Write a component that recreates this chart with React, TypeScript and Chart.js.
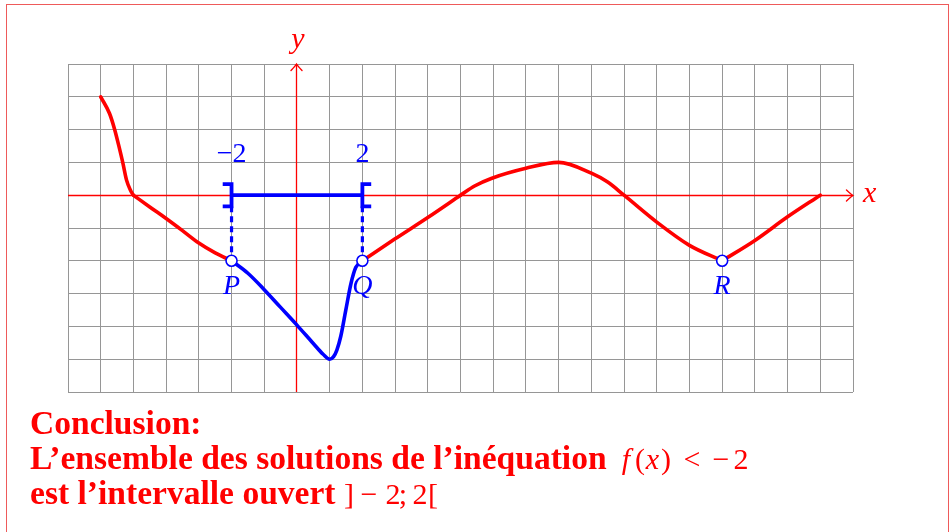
import React, { useEffect, useRef } from "react";
import { Chart, registerables } from "chart.js";

Chart.register(...registerables);

// Window of the graph
const xRange = [-7, 17];
const yRange = [-6, 4];

// Curve of f, red parts
const redAX = [-6, -5.73, -5.57, -5.44, -5.32, -5.21, -5.09, -5];
const redAY = [3, 2.49, 1.99, 1.48, 0.97, 0.46, 0.15, 0];
const redBX = [-5, -4.5, -4, -3.5, -3, -2.5, -2];
const redBY = [0, -0.36, -0.71, -1.08, -1.46, -1.76, -2];
const redCX = [2, 3, 4, 5];
const redCY = [-2, -1.33, -0.68, 0];
const redDX = [5, 5.43, 5.94, 7, 8, 9, 9.5, 10, 11, 12, 13];
const redDY = [0, 0.28, 0.51, 0.82, 1, 0.67, 0.4, 0, -0.82, -1.53, -2];
const redEX = [13, 14, 15, 16];
const redEY = [-2, -1.38, -0.66, 0];

// Part of the curve under y = -2 (blue)
const blueX = [-2, -1.5, -1, -0.5, 0, 0.5, 0.8, 1, 1.12, 1.22, 1.34, 1.49, 1.65, 1.8, 2];
const blueY = [-2, -2.38, -2.88, -3.42, -3.96, -4.52, -4.85, -5, -4.92, -4.72, -4.3, -3.52, -2.7, -2.2, -2];

// Solution interval ]-2 ; 2[
const intervalX = [-2, 2];
const intervalLabels = ["\u22122", "2"];
const intervalLabelY = 1;

// Marked points
const pointNames = ["P", "Q", "R"];
const pointX = [-2, 2, 13];
const pointY = [-2, -2, -2];
const pointLabelY = -3;

// Conclusion text
const conclusionBold = [
  "Conclusion:",
  "L\u2019ensemble des solutions de l\u2019in\u00e9quation",
  "est l\u2019intervalle ouvert",
];

const RED = "#ff0000";
const BLUE = "#0000ff";
const GRID = "rgb(150,150,150)";

const pts = (xs: number[], ys: number[]) => xs.map((x, i) => ({ x, y: ys[i] }));

export default function App() {
  const ref = useRef<HTMLCanvasElement | null>(null);

  useEffect(() => {
    document.body.style.margin = "0";
    const canvas = ref.current;
    if (!canvas) return;

    const curve = (xs: number[], ys: number[], color: string) => ({
      data: pts(xs, ys),
      showLine: true,
      borderColor: color,
      backgroundColor: color,
      borderWidth: 3.6,
      pointRadius: 0,
      cubicInterpolationMode: "monotone",
      borderCapStyle: "round",
      borderJoinStyle: "round",
      fill: false,
      order: 3,
    });

    const bh = 0.34;
    const bs = 0.27;
    const bracket = (x: number, dir: number) => ({
      data: [
        { x: x + dir * bs, y: bh },
        { x, y: bh },
        { x, y: -bh },
        { x: x + dir * bs, y: -bh },
      ],
      showLine: true,
      borderColor: BLUE,
      borderWidth: 3.8,
      pointRadius: 0,
      tension: 0,
      borderJoinStyle: "miter",
      borderCapStyle: "butt",
      fill: false,
      order: 2,
    });

    const dashed = (x: number) => ({
      data: [
        { x, y: -bh },
        { x, y: pointY[0] },
      ],
      showLine: true,
      borderColor: BLUE,
      borderWidth: 3.2,
      borderDash: [6, 4],
      pointRadius: 0,
      tension: 0,
      fill: false,
      order: 2,
    });

    const axesPlugin = {
      id: "redAxes",
      beforeDatasetsDraw(chart: any) {
        const { ctx } = chart;
        const sx = chart.scales.x;
        const sy = chart.scales.y;
        const x0 = Math.floor(sx.getPixelForValue(0)) + 0.5;
        const y0 = Math.floor(sy.getPixelForValue(0)) + 0.5;
        const left = sx.getPixelForValue(xRange[0]);
        const right = sx.getPixelForValue(xRange[1]);
        const top = sy.getPixelForValue(yRange[1]);
        const bottom = sy.getPixelForValue(yRange[0]);
        ctx.save();
        ctx.strokeStyle = RED;
        ctx.lineWidth = 1.3;
        ctx.beginPath();
        ctx.moveTo(left, y0);
        ctx.lineTo(right, y0);
        ctx.moveTo(x0, bottom);
        ctx.lineTo(x0, top);
        ctx.stroke();
        ctx.lineWidth = 1.4;
        ctx.lineCap = "round";
        ctx.beginPath();
        ctx.moveTo(right - 6.5, y0 - 5.5);
        ctx.quadraticCurveTo(right - 2, y0 - 1.2, right, y0);
        ctx.quadraticCurveTo(right - 2, y0 + 1.2, right - 6.5, y0 + 5.5);
        ctx.moveTo(x0 - 5.5, top + 6.5);
        ctx.quadraticCurveTo(x0 - 1.2, top + 2, x0, top);
        ctx.quadraticCurveTo(x0 + 1.2, top + 2, x0 + 5.5, top + 6.5);
        ctx.stroke();
        ctx.restore();
      },
    };

    const textPlugin = {
      id: "texts",
      beforeDraw(chart: any) {
        const { ctx } = chart;
        ctx.save();
        ctx.strokeStyle = "rgb(238,90,90)";
        ctx.lineWidth = 1;
        ctx.strokeRect(6.5, 4.5, 942, 600);
        ctx.restore();
      },
      afterDraw(chart: any) {
        const { ctx } = chart;
        const sx = chart.scales.x;
        const sy = chart.scales.y;
        ctx.save();
        ctx.textBaseline = "alphabetic";
        // axis names
        ctx.fillStyle = RED;
        ctx.font = 'italic 30px "Liberation Serif"';
        ctx.textAlign = "left";
        ctx.fillText("x", sx.getPixelForValue(xRange[1]) + 10, sy.getPixelForValue(0) + 7);
        ctx.textAlign = "center";
        ctx.fillText("y", sx.getPixelForValue(0) + 1, sy.getPixelForValue(yRange[1]) - 16);
        // interval bounds
        ctx.fillStyle = BLUE;
        ctx.font = '28px "Liberation Serif"';
        intervalLabels.forEach((t, i) => {
          ctx.fillText(t, sx.getPixelForValue(intervalX[i]), sy.getPixelForValue(intervalLabelY));
        });
        // point names
        ctx.font = 'italic 28px "Liberation Serif"';
        pointNames.forEach((t, i) => {
          ctx.fillText(t, sx.getPixelForValue(pointX[i]), sy.getPixelForValue(pointLabelY));
        });

        // conclusion
        ctx.fillStyle = RED;
        ctx.textAlign = "left";
        ctx.font = 'bold 30px "Liberation Serif"';
        const w = ctx.measureText(conclusionBold[1]).width;
        const size = (30 * 577) / w;
        ctx.font = `bold ${size}px "Liberation Serif"`;
        const baselines = [434, 469, 504];
        conclusionBold.forEach((t, i) => ctx.fillText(t, 30, baselines[i]));

        ctx.textAlign = "center";
        const math2: [string, number, boolean][] = [
          ["f", 626, true],
          ["(", 640, false],
          ["x", 652.5, true],
          [")", 666, false],
          ["<", 692, false],
          ["\u2212", 721, false],
          ["2", 741, false],
        ];
        const math3: [string, number, boolean][] = [
          ["]", 349, false],
          ["\u2212", 369, false],
          ["2", 393, false],
          [";", 403, false],
          ["2", 420, false],
          ["[", 433, false],
        ];
        const drawMath = (arr: [string, number, boolean][], base: number) => {
          arr.forEach(([t, cx, it]) => {
            ctx.font = `${it ? "italic " : ""}30px "Liberation Serif"`;
            ctx.fillText(t, cx, base);
          });
        };
        drawMath(math2, baselines[1]);
        drawMath(math3, baselines[2]);
        ctx.restore();
      },
    };

    const gridColor = (c: any) => (c.tick && c.tick.value === 0 ? "rgba(0,0,0,0)" : GRID);

    const chart = new Chart(canvas, {
      type: "scatter",
      data: {
        datasets: [
          {
            data: pts(pointX, pointY),
            showLine: false,
            pointRadius: 5.5,
            pointHoverRadius: 5.5,
            pointBackgroundColor: "#ffffff",
            pointBorderColor: BLUE,
            pointBorderWidth: 1.6,
            order: 0,
          },
          curve(redAX, redAY, RED),
          curve(redBX, redBY, RED),
          curve(redCX, redCY, RED),
          curve(redDX, redDY, RED),
          curve(redEX, redEY, RED),
          curve(blueX, blueY, BLUE),
          {
            data: pts(intervalX, [0, 0]),
            showLine: true,
            borderColor: BLUE,
            borderWidth: 3.8,
            pointRadius: 0,
            tension: 0,
            fill: false,
            order: 2,
          },
          bracket(intervalX[0], -1),
          bracket(intervalX[1], 1),
          dashed(intervalX[0]),
          dashed(intervalX[1]),
        ] as any,
      },
      options: {
        animation: false,
        responsive: false,
        devicePixelRatio: 1,
        layout: { padding: { left: 68, right: 97, top: 64, bottom: 140 } },
        plugins: { legend: { display: false }, tooltip: { enabled: false } },
        events: [],
        scales: {
          x: {
            type: "linear",
            min: xRange[0],
            max: xRange[1],
            ticks: { stepSize: 1, display: false },
            grid: { color: gridColor, lineWidth: 1, drawTicks: false },
            border: { display: false },
          },
          y: {
            type: "linear",
            min: yRange[0],
            max: yRange[1],
            ticks: { stepSize: 1, display: false },
            grid: { color: gridColor, lineWidth: 1, drawTicks: false },
            border: { display: false },
          },
        },
      } as any,
      plugins: [axesPlugin, textPlugin],
    });
    return () => chart.destroy();
  }, []);

  return (
    <div style={{ position: "absolute", left: 0, top: 0, width: 950, height: 532 }}>
      <canvas ref={ref} width={950} height={532} />
    </div>
  );
}
